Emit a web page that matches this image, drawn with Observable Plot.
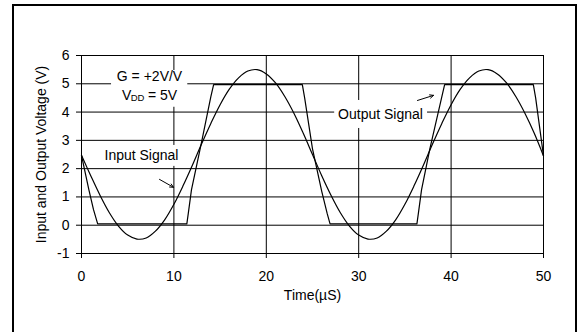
<!DOCTYPE html>
<html>
<head>
<meta charset="utf-8">
<script src="https://cdn.jsdelivr.net/npm/d3@7"></script>
<script src="https://cdn.jsdelivr.net/npm/@observablehq/plot@0.6"></script>
<style>
  html, body { margin: 0; padding: 0; background: #fff; }
  #wrap { position: relative; width: 585px; height: 332px; overflow: hidden; }
  #border { position: absolute; left: 12px; top: 4px; width: 561px; height: 360px; border: 2px solid #000; }
  #chart { position: absolute; left: 0; top: 0; }
  #chart svg { display: block; }
</style>
</head>
<body>
<div id="wrap"><div id="border"></div><div id="chart"></div></div>
<script>
// ---- data ----
const inputTime = [0,1,2,3,4,5,6,7,8,9,10,11,12,13,14,15,16,17,18,19,20,21,22,23,24,25,
                   26,27,28,29,30,31,32,33,34,35,36,37,38,39,40,41,42,43,44,45,46,47,48,49,50];
const inputVolts = [2.47,1.75,1.06,0.45,-0.03,-0.35,-0.49,-0.45,-0.21,0.19,0.74,1.40,2.12,2.88,3.60,4.26,4.81,5.21,5.45,5.50,5.35,5.03,4.55,3.95,3.25,2.50,
                    1.75,1.06,0.45,-0.03,-0.35,-0.49,-0.45,-0.21,0.19,0.74,1.40,2.12,2.88,3.60,4.26,4.81,5.21,5.45,5.50,5.35,5.03,4.55,3.95,3.25,2.45];

const outputTime = [0,0.8,1.3,1.75,11.4,11.55,11.9,13,14.0,14.3,23.9,24.15,25,26,26.6,26.9,36.3,36.45,36.8,37.7,39.0,39.3,48.9,49.15,50];
const outputVolts = [2.47,1.25,0.55,0.05,0.05,0.4,1.25,2.95,4.55,4.97,4.97,4.5,2.7,1.2,0.4,0.05,0.05,0.4,1.25,2.7,4.55,4.97,4.97,4.5,2.45];

const xTicks = [0,10,20,30,40,50];
const xTickLabels = ["0","10","20","30","40","50"];
const yTicks = [-1,0,1,2,3,4,5,6];
const yTickLabels = ["-1","0","1","2","3","4","5","6"];
const xGrid = [10,20,30,40];
const yGrid = [0,1,2,3,4,5];

const xTitle = "Time(\u00B5S)";
const yTitle = "Input and Output Voltage (V)";

// annotation labels (anchored in data units)
const noteText = ["G = +2V/V", "Input Signal", "Output Signal"];
const noteX = [7.36, 6.49, 32.36];
const noteY = [5.27, 2.45, 3.92];
// white label boxes masking the grid (data units)
const boxX1 = [3.25, 2.0, 27.4];
const boxX2 = [11.5, 10.7, 37.45];
const boxY1 = [4.17, 2.08, 3.42];
const boxY2 = [5.47, 2.82, 4.41];
// arrows (data units)
const arrowX1 = [8.44, 36.36];
const arrowY1 = [1.62, 4.41];
const arrowX2 = [9.96, 38.1];
const arrowY2 = [1.34, 4.59];
// V_DD label pieces
const vddParts = ["V", "DD", " = 5V"];
const vddX = 4.39;
const vddY = 4.59;

// ---- build tables ----
const input = inputTime.map((t, i) => ({t, v: inputVolts[i]}));
const output = outputTime.map((t, i) => ({t, v: outputVolts[i]}));
const notes = noteText.map((s, i) => ({s, x: noteX[i], y: noteY[i]}));
const boxes = boxX1.map((d, i) => ({x1: boxX1[i], x2: boxX2[i], y1: boxY1[i], y2: boxY2[i]}));
const arrows = arrowX1.map((d, i) => ({x1: arrowX1[i], y1: arrowY1[i], x2: arrowX2[i], y2: arrowY2[i]}));

const font = "'Liberation Sans', Arial, Helvetica, sans-serif";

const chart = Plot.plot({
  width: 585,
  height: 332,
  marginLeft: 81,
  marginRight: 42,
  marginTop: 55,
  marginBottom: 79,
  x: {domain: [0, 50]},
  y: {domain: [-1, 6]},
  style: {fontFamily: font, fontSize: "14px", background: "transparent", color: "#000"},
  marks: [
    Plot.gridY(yGrid, {stroke: "#000", strokeOpacity: 1, strokeWidth: 1}),
    Plot.gridX(xGrid, {stroke: "#000", strokeOpacity: 1, strokeWidth: 1}),
    Plot.rect(boxes, {x1: "x1", x2: "x2", y1: "y1", y2: "y2", fill: "#fff"}),
    Plot.frame({stroke: "#000", strokeWidth: 1}),
    Plot.axisY(yTicks, {tickSize: 5, tickPadding: 7, fontSize: 14,
      tickFormat: d => yTickLabels[yTicks.indexOf(d)], label: null}),
    Plot.axisX(xTicks, {tickSize: 5, tickPadding: 13, fontSize: 14,
      tickFormat: d => xTickLabels[xTicks.indexOf(d)], label: null}),
    Plot.line(input, {x: "t", y: "v", stroke: "#000", strokeWidth: 1.2, curve: "catmull-rom"}),
    Plot.line(output, {x: "t", y: "v", stroke: "#000", strokeWidth: 1.2}),
    Plot.text(notes, {x: "x", y: "y", text: "s", fontSize: 14, fill: "#000"}),
    Plot.text([vddParts[0]], {x: () => vddX, y: () => vddY, text: d => d, textAnchor: "start", fontSize: 14, fill: "#000"}),
    Plot.text([vddParts[1]], {x: () => vddX, y: () => vddY, text: d => d, textAnchor: "start", dx: 8.6, dy: 3, fontSize: 9.5, fill: "#000"}),
    Plot.text([vddParts[2]], {x: () => vddX, y: () => vddY, text: d => d, textAnchor: "start", dx: 22, fontSize: 14, fill: "#000"}),
    Plot.arrow(arrows, {x1: "x1", y1: "y1", x2: "x2", y2: "y2", stroke: "#000", strokeWidth: 1, headLength: 6, headAngle: 50}),
    Plot.text([xTitle], {frameAnchor: "bottom", dy: 46, text: d => d, fontSize: 14, fill: "#000"}),
    Plot.text([yTitle], {frameAnchor: "left", textAnchor: "middle", dx: -40, rotate: -90, text: d => d, fontSize: 14, fill: "#000"})
  ]
});
document.getElementById("chart").appendChild(chart);
</script>
</body>
</html>
